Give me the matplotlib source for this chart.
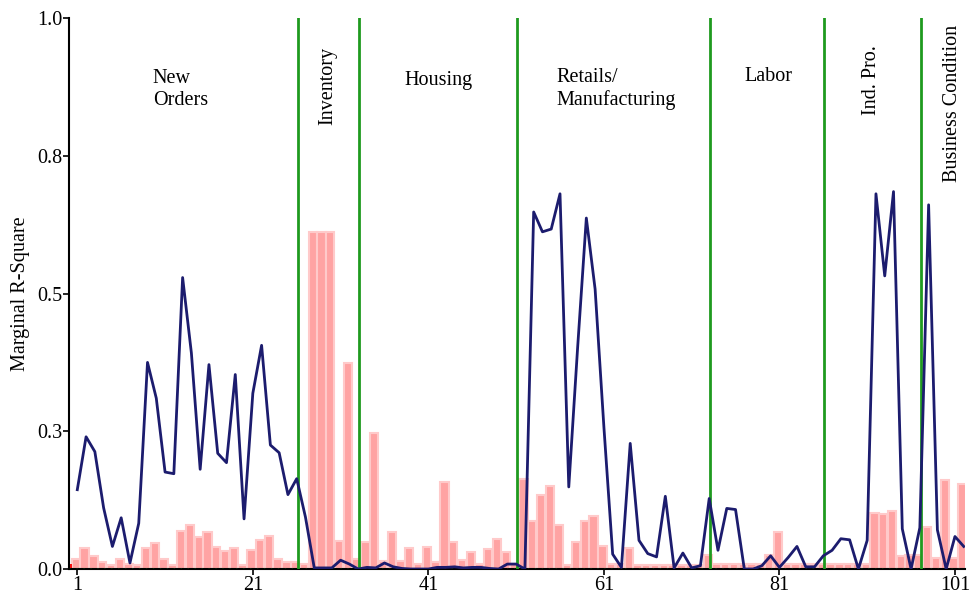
import matplotlib as mpl
mpl.use('agg')
import matplotlib.pyplot as plt
import numpy as np

# series index 1..102
idx = np.arange(1, 103)

# marginal R-square of the model (line)
r2_line = [0.144, 0.240, 0.213, 0.111, 0.041, 0.093, 0.011, 0.083, 0.375, 0.310,
           0.176, 0.173, 0.529, 0.392, 0.181, 0.371, 0.210, 0.193, 0.353, 0.091,
           0.319, 0.406, 0.225, 0.211, 0.135, 0.164, 0.094, 0.002, 0.002, 0.002,
           0.016, 0.009, 0.000, 0.003, 0.002, 0.011, 0.004, 0.001, 0.000, 0.000,
           0.000, 0.003, 0.003, 0.004, 0.002, 0.003, 0.003, 0.001, 0.000, 0.009,
           0.009, 0.000, 0.648, 0.612, 0.617, 0.681, 0.149, 0.400, 0.637, 0.508,
           0.258, 0.027, 0.003, 0.228, 0.052, 0.028, 0.022, 0.132, 0.002, 0.029,
           0.002, 0.006, 0.128, 0.034, 0.110, 0.108, 0.000, 0.000, 0.006, 0.024,
           0.003, 0.021, 0.041, 0.004, 0.004, 0.024, 0.034, 0.055, 0.053, 0.000,
           0.052, 0.681, 0.532, 0.685, 0.073, 0.000, 0.075, 0.661, 0.071, 0.000,
           0.059, 0.041]

# marginal R-square of the benchmark (bars)
r2_bar = [0.018, 0.038, 0.024, 0.012, 0.008, 0.019, 0.009, 0.008, 0.038, 0.047,
          0.019, 0.008, 0.069, 0.080, 0.059, 0.067, 0.040, 0.032, 0.038, 0.008,
          0.035, 0.052, 0.060, 0.019, 0.013, 0.012, 0.009, 0.612, 0.612, 0.612,
          0.050, 0.374, 0.018, 0.049, 0.246, 0.015, 0.067, 0.014, 0.038, 0.010,
          0.040, 0.012, 0.158, 0.049, 0.016, 0.030, 0.009, 0.036, 0.055, 0.030,
          0.009, 0.163, 0.088, 0.134, 0.151, 0.080, 0.008, 0.049, 0.088, 0.096,
          0.041, 0.009, 0.009, 0.039, 0.008, 0.008, 0.008, 0.008, 0.008, 0.008,
          0.008, 0.008, 0.026, 0.010, 0.010, 0.010, 0.010, 0.010, 0.010, 0.026,
          0.068, 0.009, 0.009, 0.009, 0.009, 0.009, 0.009, 0.009, 0.009, 0.009,
          0.009, 0.101, 0.100, 0.105, 0.024, 0.026, 0.026, 0.077, 0.020, 0.161,
          0.020, 0.154]

# group boundaries and labels
bounds = [26.1, 33.1, 51.15, 73.1, 86.1, 97.1]
groups = ['New\nOrders', 'Inventory', 'Housing', 'Retails/\nManufacturing',
          'Labor', 'Ind. Pro.', 'Business Condition']

plt.rcParams['font.family'] = ['Liberation Serif', 'DejaVu Serif']

fig = plt.figure(figsize=(9.74, 6.01), dpi=100)
ax = fig.add_axes([0.0708, 0.0532, 0.92, 0.9168])

ax.bar(idx - 0.17, r2_bar, width=0.95, color='#ffa3a3',
       edgecolor='#ffcaca', linewidth=1.5, zorder=2)
ax.bar([0.1], [0.009], width=0.7, color='#ff1010', zorder=2)
ax.plot(idx, r2_line, color='#1c1c6e', linewidth=2, zorder=4)
ax.axhline(0, color='#2a9a2a', linewidth=1, linestyle=(0, (1, 4)), zorder=3)
for b in bounds:
    ax.axvline(b, color='#1f9a1f', linewidth=2, zorder=3)

# group labels
ax.text(9.6, 0.871, groups[0], fontsize=14.5, ha='left', va='center', linespacing=1.2)
ax.text(29.5, 0.877, groups[1], fontsize=14.5, ha='center', va='center', rotation=90)
ax.text(42.1, 0.886, groups[2], fontsize=14.5, ha='center', va='center')
ax.text(55.6, 0.871, groups[3], fontsize=14.5, ha='left', va='center', linespacing=1.2)
ax.text(79.7, 0.893, groups[4], fontsize=14.5, ha='center', va='center')
ax.text(91.5, 0.887, groups[5], fontsize=14.5, ha='center', va='center', rotation=90)
ax.text(100.7, 0.845, groups[6], fontsize=14.5, ha='center', va='center', rotation=90)

ax.set_xlim(0.05, 102.15)
ax.set_ylim(0, 1.0)
ax.set_xticks([1, 21, 41, 61, 81, 101])
ax.set_yticks([0, 0.25, 0.5, 0.75, 1.0])
ax.set_yticklabels(['0.0', '0.3', '0.5', '0.8', '1.0'])
ax.tick_params(labelsize=14.5, length=4, width=1.2, pad=1)
ax.set_ylabel('Marginal R-Square', fontsize=14.5)
ax.yaxis.set_label_coords(-0.044, 0.5)
for s in ['top', 'right']:
    ax.spines[s].set_visible(False)
ax.spines['left'].set_linewidth(1.5)
ax.spines['bottom'].set_linewidth(1.5)

plt.savefig('out.png', dpi=100)
